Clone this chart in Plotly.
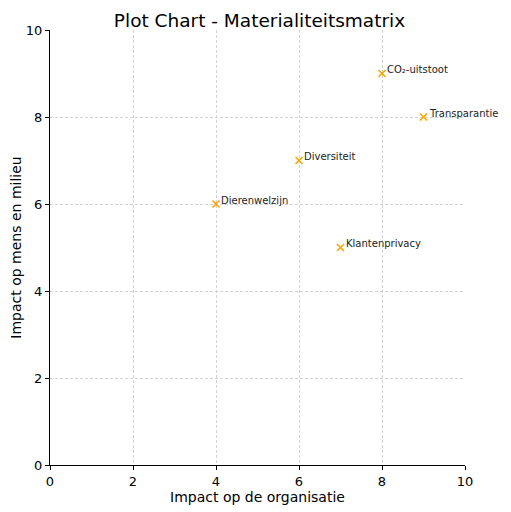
import plotly.graph_objects as go

# Data
topics = ["CO₂-uitstoot", "Transparantie", "Diversiteit", "Dierenwelzijn", "Klantenprivacy"]
impact_org = [8, 9, 6, 4, 7]
impact_milieu = [9, 8, 7, 6, 5]
tick_vals = [0, 2, 4, 6, 8, 10]

fig = go.Figure(go.Scatter(
    x=impact_org,
    y=impact_milieu,
    mode="markers",
    marker=dict(symbol="x-thin", size=7, line=dict(width=1.6, color="orange"), color="orange"),
    cliponaxis=False,
    hoverinfo="skip",
))

# labels next to each point
for name, xv, yv in zip(topics, impact_org, impact_milieu):
    fig.add_annotation(x=xv, y=yv, text=name, showarrow=False,
                       xanchor="left", yanchor="middle", xshift=3, yshift=4,
                       font=dict(size=10, color="#222222"))

axis_style = dict(
    range=[0, 10],
    tickvals=tick_vals,
    showgrid=True,
    gridcolor="#d3d3d3",
    griddash="3px,2px",
    gridwidth=0.7,
    showline=True,
    linecolor="black",
    linewidth=1,
    ticks="outside",
    ticklen=4,
    tickcolor="black",
    zeroline=False,
    automargin=False,
    tickfont=dict(size=13, color="black"),
)

# page body has an 8px margin, so the figure is a bit smaller than the window
fig.update_layout(
    title=dict(text="Plot Chart - Materialiteitsmatrix", x=0.5, xanchor="center",
               y=0.976, yanchor="middle", font=dict(size=18.5, color="black")),
    width=503,
    height=504,
    margin=dict(l=42, r=46, t=22, b=47),
    plot_bgcolor="white",
    paper_bgcolor="white",
    font=dict(family="DejaVu Sans", color="black"),
    showlegend=False,
)
fig.update_xaxes(title=dict(text="Impact op de organisatie", font=dict(size=14), standoff=2), **axis_style)
fig.update_yaxes(title=dict(text="Impact op mens en milieu", font=dict(size=14), standoff=2), **axis_style)

fig.write_html("out.html")
